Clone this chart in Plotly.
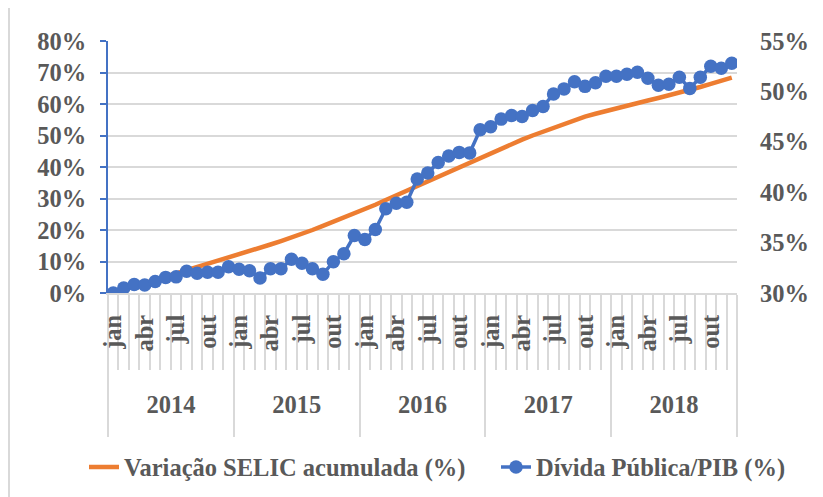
import plotly.graph_objects as go

# ---- data ----
years = ["2014", "2015", "2016", "2017", "2018"]
month_names = ["jan", "fev", "mar", "abr", "mai", "jun", "jul", "ago", "set", "out", "nov", "dez"]
tick_months = ["jan", "abr", "jul", "out"]

selic_acum = [
    0.0, 1.1, 2.2, 3.2, 4.2, 5.2, 6.2, 7.2, 8.1, 9.1, 10.1, 11.1,
    12.1, 13.2, 14.3, 15.4, 16.5, 17.6, 18.7, 20.0, 21.3, 22.6, 24.0, 25.3,
    26.6, 28.0, 29.5, 31.0, 32.6, 34.0, 35.5, 37.0, 38.4, 39.9, 41.4, 42.9,
    44.4, 45.8, 47.3, 48.7, 50.0, 51.2, 52.4, 53.6, 54.9, 56.0, 56.9, 57.8,
    58.6, 59.5, 60.3, 61.1, 61.9, 62.7, 63.6, 64.5, 65.4, 66.4, 67.4, 68.4,
]
divida_pib = [
    30.0, 30.5, 30.85, 30.8, 31.15, 31.55, 31.6, 32.15, 31.95, 32.05, 32.05, 32.6,
    32.35, 32.2, 31.5, 32.4, 32.4, 33.35, 32.95, 32.4, 31.85, 33.1, 33.9, 35.7,
    35.3, 36.3, 38.35, 38.9, 39.0, 41.3, 41.9, 42.95, 43.6, 43.95, 43.9, 46.2,
    46.5, 47.25, 47.6, 47.5, 48.1, 48.5, 49.75, 50.25, 50.95, 50.5, 50.85, 51.5,
    51.5, 51.7, 51.9, 51.3, 50.6, 50.7, 51.4, 50.3, 51.4, 52.5, 52.3, 52.8,
]

# ---- derived positions ----
labels = [f"{m} {y}" for y in years for m in month_names]
xs = list(range(len(labels)))
n = len(xs)
month_tick_vals = [i for i, l in enumerate(labels) if l.split()[0] in tick_months]
month_tick_text = [labels[i].split()[0] for i in month_tick_vals]
year_tick_vals = [k * 12 + 5.5 for k in range(len(years))]
year_bounds = [k * 12 - 0.5 for k in range(len(years) + 1)]

FONT = "Liberation Serif"
TXT = "#595959"
GRID = "#D9D9D9"
BLUE = "#4472C4"
ORANGE = "#ED7D31"
FS = 24.5

# page body has an 8px default margin: size the figure to the remaining viewport
OFF = 8
W, H = 823 - OFF, 497 - OFF
L, T = 108 - OFF, 41 - OFF
R = 823 - 737
B = H - (293 - OFF)
PW, PH = W - L - R, H - T - B


def px_x(rx):
    return (rx - OFF - L) / PW


def px_y(ry):
    return (H - B - (ry - OFF)) / PH


tf = dict(family=FONT, size=FS, color=TXT, weight="bold")

fig = go.Figure()
fig.add_trace(go.Scatter(
    x=xs, y=selic_acum, name="Variação SELIC acumulada (%)",
    mode="lines", line=dict(color=ORANGE, width=4.5), yaxis="y", xaxis="x",
    legend="legend",
))
fig.add_trace(go.Scatter(
    x=xs, y=divida_pib, name="Dívida Pública/PIB (%)",
    mode="lines+markers", line=dict(color=BLUE, width=3.5),
    marker=dict(color=BLUE, size=13.5), yaxis="y2", xaxis="x",
    legend="legend2",
))

xr = [-0.5, n - 0.5]
fig.update_layout(
    width=W, height=H,
    margin=dict(l=L, r=R, t=T, b=B, autoexpand=False),
    paper_bgcolor="white", plot_bgcolor="white",
    font=tf,
    showlegend=True,
    legend=dict(
        orientation="h", x=px_x(84), xanchor="left", y=px_y(467), yanchor="middle",
        font=tf, bgcolor="rgba(0,0,0,0)",
    ),
    legend2=dict(
        orientation="h", x=px_x(496), xanchor="left", y=px_y(467), yanchor="middle",
        font=tf, bgcolor="rgba(0,0,0,0)",
    ),
    xaxis=dict(
        range=xr, showgrid=False, zeroline=False, automargin=False,
        showline=True, linecolor=GRID, linewidth=1.5,
        tickmode="array", tickvals=year_bounds, ticks="outside",
        ticklen=142, tickcolor=GRID, tickwidth=1.5, showticklabels=False,
        minor=dict(tickmode="linear", tick0=-0.5, dtick=1, ticks="outside",
                   ticklen=75, tickcolor=GRID, tickwidth=1.5, showgrid=False),
    ),
    xaxis2=dict(
        range=xr, overlaying="x", anchor="y", side="bottom", automargin=False,
        showgrid=False, zeroline=False, showline=False,
        tickmode="array", tickvals=month_tick_vals, ticktext=month_tick_text,
        tickangle=-90, ticks="outside", ticklen=11, tickcolor="rgba(0,0,0,0)",
        tickfont=tf,
    ),
    xaxis3=dict(
        range=xr, overlaying="x", anchor="y", side="bottom", automargin=False,
        showgrid=False, zeroline=False, showline=False,
        tickmode="array", tickvals=year_tick_vals, ticktext=years,
        ticks="outside", ticklen=90, tickcolor="rgba(0,0,0,0)",
        tickfont=tf,
    ),
    yaxis=dict(
        range=[0, 80], dtick=10, ticksuffix="%", automargin=False,
        showgrid=True, gridcolor=GRID, gridwidth=1.5, zeroline=False,
        showline=True, linecolor=BLUE, linewidth=1.5,
        ticks="outside", ticklen=6, tickcolor=BLUE, tickwidth=1.5,
        ticklabelstandoff=9,
        tickfont=tf,
    ),
    yaxis2=dict(
        range=[30, 55], dtick=5, ticksuffix="%", overlaying="y", side="right",
        automargin=False,
        showgrid=False, zeroline=False, showline=False, ticks="",
        ticklabelstandoff=22,
        tickfont=tf,
    ),
)

# invisible traces to activate the label-only x axes
fig.add_trace(go.Scatter(x=[xs[0]], y=[None], xaxis="x2", yaxis="y", showlegend=False, hoverinfo="skip"))
fig.add_trace(go.Scatter(x=[xs[0]], y=[None], xaxis="x3", yaxis="y", showlegend=False, hoverinfo="skip"))

# outer chart border (left edge)
fig.add_shape(type="line", xref="paper", yref="paper",
              x0=px_x(9), x1=px_x(9), y0=px_y(497), y1=px_y(OFF),
              line=dict(color=GRID, width=2))

fig.write_html("out.html")
